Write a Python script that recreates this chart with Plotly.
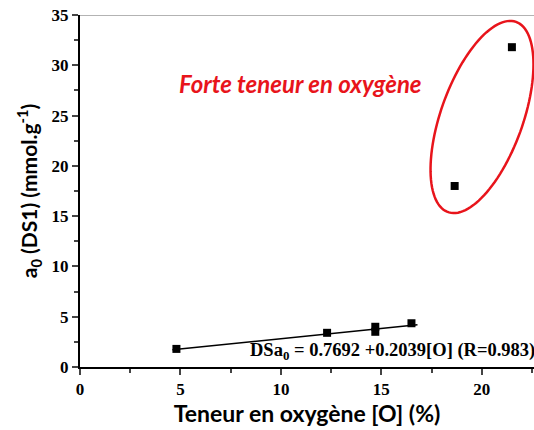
import numpy as np
import plotly.graph_objects as go

# Data
oxygen = [4.8, 12.3, 14.7, 14.7, 16.5, 18.65, 21.5]
a0 = [1.8, 3.4, 3.5, 4.0, 4.35, 18.0, 31.8]
fit_intercept = 0.7692
fit_slope = 0.2039
fit_x = [4.6, 16.8]
x_ticks = [0, 5, 10, 15, 20]
y_ticks = [0, 5, 10, 15, 20, 25, 30, 35]

W, H = 534, 430
ML, MR, MT, MB = 80, 0, 15, 63
XMAX = 22.6
YMAX = 35

fig = go.Figure()

fit_y = [fit_intercept + fit_slope * x for x in fit_x]
fig.add_trace(go.Scatter(x=fit_x, y=fit_y, mode="lines",
                         line=dict(color="black", width=1.5), showlegend=False))
fig.add_trace(go.Scatter(x=oxygen, y=a0, mode="markers",
                         marker=dict(symbol="square", size=8, color="black"),
                         showlegend=False))

pw = W - ML - MR
ph = H - MT - MB
def px2data(px, py):
    return (px - ML) / pw * XMAX, (H - MB - py) / ph * YMAX
cx, cy = 482, 117
a, b = 101, 41
phi = np.deg2rad(19.7)
t = np.linspace(0, 2 * np.pi, 120)
ux, uy = np.sin(phi), -np.cos(phi)
vx, vy = np.cos(phi), np.sin(phi)
pts = [px2data(cx + a * np.cos(tt) * ux + b * np.sin(tt) * vx,
               cy + a * np.cos(tt) * uy + b * np.sin(tt) * vy) for tt in t]
path = "M " + " L ".join(f"{x:.4f},{y:.4f}" for x, y in pts) + " Z"
fig.add_shape(type="path", path=path, xref="x", yref="y",
              line=dict(color="#e8141b", width=2.5))

fig.add_shape(type="line", xref="paper", yref="y", x0=0, x1=1, y0=YMAX, y1=YMAX,
              line=dict(color="#9a9a9a", width=1.5))

fig.add_annotation(x=(300 - ML) / pw, y=(H - MB - 67) / ph, xref="paper", yref="paper",
                   text="<b><i>Forte teneur en oxygène</i></b>", showarrow=False,
                   font=dict(family="Lato", size=24, color="#e8141b"))

fig.add_annotation(x=(536 - ML) / pw, y=(H - MB - 364) / ph, xref="paper", yref="paper",
                   xanchor="right", yanchor="bottom", borderpad=0,
                   text="<b>DSa<sub>0</sub> = 0.7692 +0.2039[O] (R=0.983)</b>",
                   showarrow=False,
                   font=dict(family="Liberation Serif", size=18.5, color="black"))

tickfont = dict(family="Liberation Serif", size=17, color="black", weight="bold")
fig.update_layout(
    width=W, height=H,
    margin=dict(l=ML, r=MR, t=MT, b=MB, autoexpand=False),
    paper_bgcolor="white", plot_bgcolor="white",
    xaxis=dict(range=[0, XMAX], tickvals=x_ticks, ticks="outside", ticklen=6,
               tickwidth=2, showgrid=False, zeroline=False, automargin=False,
               showline=True, linecolor="black", linewidth=2,
               minor=dict(dtick=2.5, tick0=0, ticks="outside", ticklen=4, tickwidth=1.5, showgrid=False),
               tickfont=tickfont,
               title=dict(text="<b>Teneur en oxygène [O] (%)</b>",
                          font=dict(family="Lato", size=23, color="black"), standoff=5)),
    yaxis=dict(range=[0, YMAX], tickvals=y_ticks, ticks="outside", ticklen=6,
               tickwidth=2, showgrid=False, zeroline=False, automargin=False,
               showline=True, linecolor="black", linewidth=2,
               minor=dict(dtick=2.5, tick0=0, ticks="outside", ticklen=4, tickwidth=1.5, showgrid=False),
               tickfont=tickfont,
               title=dict(text="<b>a<sub>0</sub> (DS1) (mmol.g<sup>-1</sup>)</b>",
                          font=dict(family="Lato", size=21, color="black"), standoff=8)),
)

fig.write_html("out.html", config={"displayModeBar": False},
               post_script="document.body.style.margin='0';document.body.style.overflow='hidden';")
